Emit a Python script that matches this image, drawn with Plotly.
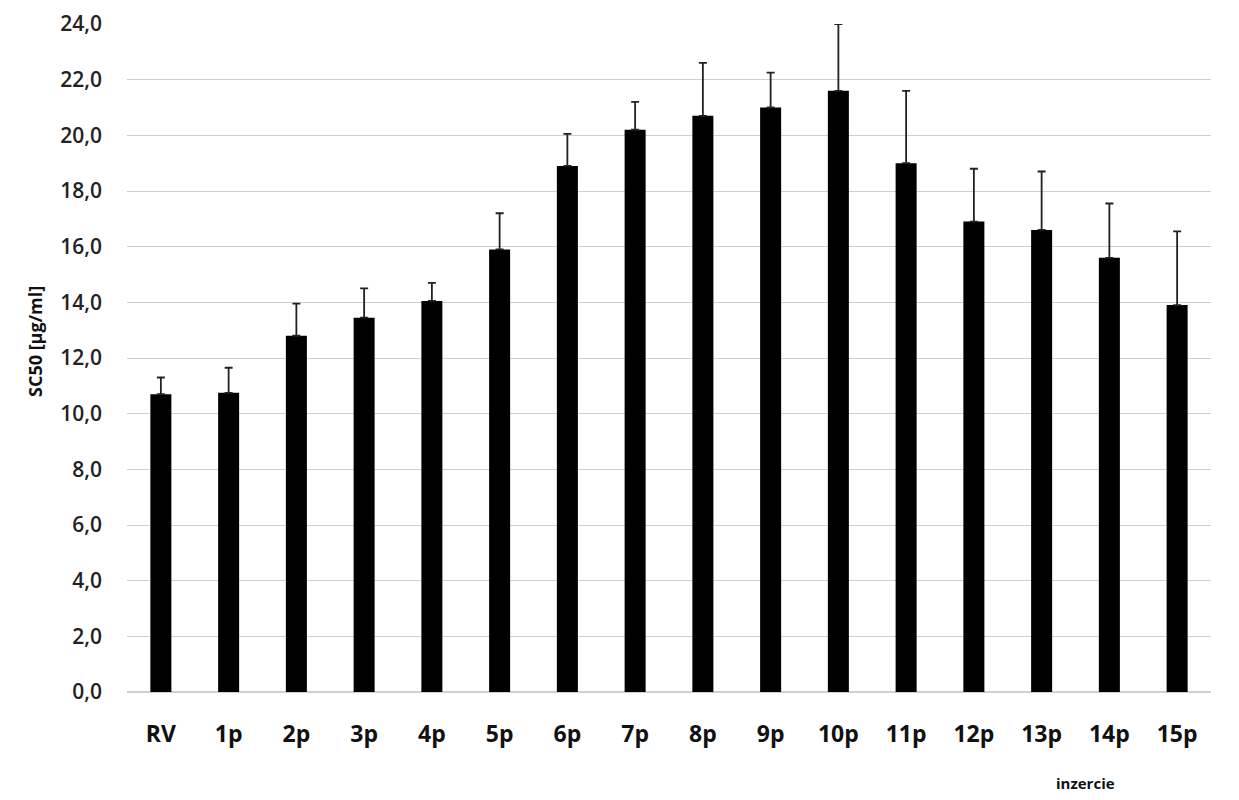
import plotly.graph_objects as go

categories = ["RV", "1p", "2p", "3p", "4p", "5p", "6p", "7p", "8p", "9p",
              "10p", "11p", "12p", "13p", "14p", "15p"]
sc50 = [10.7, 10.75, 12.8, 13.45, 14.05, 15.9, 18.9, 20.2, 20.7, 21.0,
        21.6, 19.0, 16.9, 16.6, 15.6, 13.9]
sd = [0.6, 0.9, 1.15, 1.05, 0.65, 1.3, 1.15, 1.0, 1.9, 1.25,
      2.4, 2.6, 1.9, 2.1, 1.95, 2.65]
yticks = [0, 2, 4, 6, 8, 10, 12, 14, 16, 18, 20, 22, 24]

fig = go.Figure()
fig.add_trace(go.Bar(
    x=categories, y=sc50,
    marker=dict(color="black", line=dict(width=0)),
    error_y=dict(type="data", array=sd, arrayminus=[0] * len(sd), symmetric=False,
                 color="#222222", thickness=1.8, width=4),
))

# page has an 8px body offset, so margins are shifted to land the plot area in place
fig.update_layout(
    width=1239, height=800,
    margin=dict(l=119, r=36, t=16, b=116, autoexpand=False),
    plot_bgcolor="white", paper_bgcolor="white",
    separators=",.",
    bargap=0.69,
    showlegend=False,
    font=dict(family="Open Sans, DejaVu Sans", color="#222222"),
)
fig.update_yaxes(
    range=[0, 24], tickvals=yticks, tickformat=".1f",
    automargin=False,
    showgrid=True, gridcolor="#cfcfcf", gridwidth=1,
    zeroline=True, zerolinecolor="#cfcfcf", zerolinewidth=2,
    showline=False, ticks="",
    tickfont=dict(size=21, family="Open Sans", color="#222222", weight=600),
    ticklabelstandoff=24,
)
fig.update_xaxes(
    automargin=False,
    showgrid=False, showline=False, ticks="",
    tickfont=dict(size=23, family="Open Sans", color="#111111"),
    tickprefix="<b>", ticksuffix="</b>",
    ticklabelstandoff=26,
)

# plot area spans x 127..1211, y 24..692 on the page
fig.add_annotation(
    text="<b>SC50 [µg/ml]</b>", xref="paper", yref="paper",
    x=(35 - 127) / (1211 - 127), y=(692 - 342) / (692 - 24),
    textangle=-90, xanchor="center", yanchor="middle", showarrow=False,
    font=dict(size=18, family="Open Sans", color="#111111"),
)
fig.add_annotation(
    text="<b>inzercie</b>", xref="paper", yref="paper",
    x=(1085 - 127) / (1211 - 127), y=-(783 - 692) / (692 - 24),
    xanchor="center", yanchor="middle", showarrow=False,
    font=dict(size=15, family="Open Sans", color="#111111"),
)

fig.write_html("out.html")
